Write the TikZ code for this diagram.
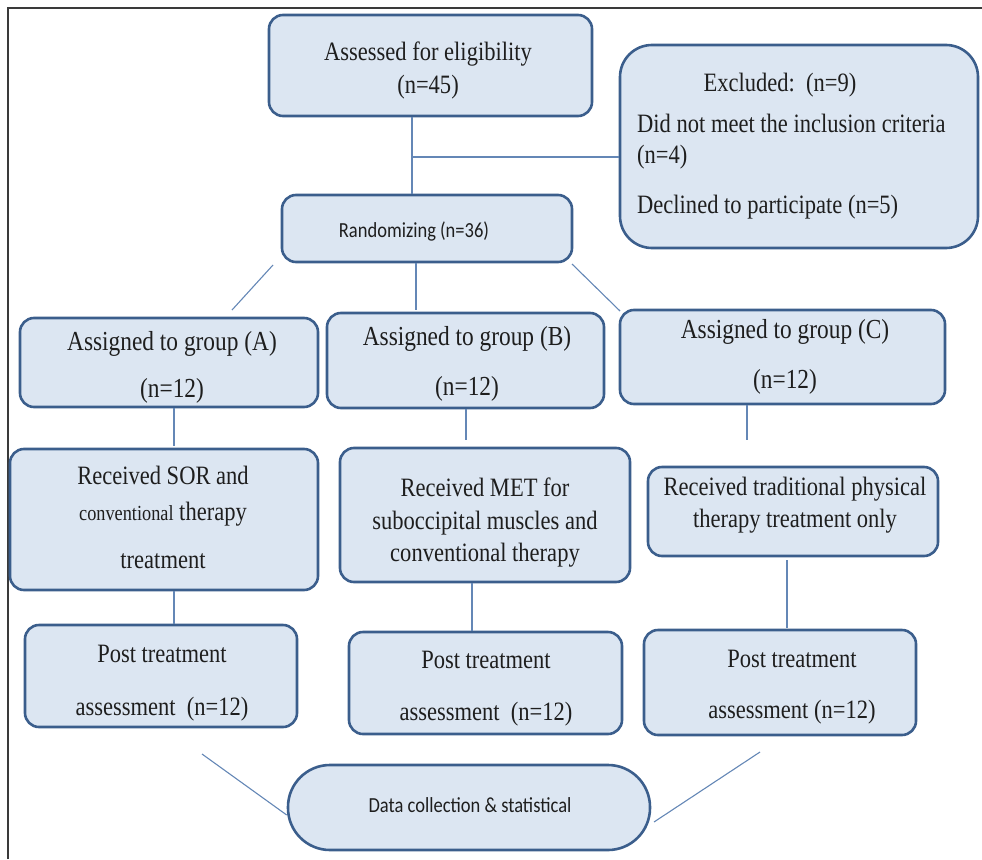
\documentclass[tikz,border=0pt]{standalone}
\usepackage{fontspec}
\setmainfont{Liberation Serif}[FakeStretch=0.85]
\newfontfamily\calib{Carlito}[FakeStretch=0.86]
\definecolor{boxfill}{HTML}{DCE6F2}
\definecolor{boxdraw}{HTML}{3B5E8C}
\definecolor{linec}{HTML}{6487B6}
\definecolor{txt}{HTML}{1E1E1E}
\definecolor{framec}{HTML}{3A3A3A}
\begin{document}
\begin{tikzpicture}[x=1pt,y=-1pt,
  box/.style={draw=boxdraw, fill=boxfill, line width=2.6pt, rounded corners=14pt, inner sep=0pt},
  conn/.style={draw=linec, line width=1.1pt},
  lbl/.style={text=txt, font=\fontsize{26.5}{30}\selectfont, inner sep=0pt, anchor=base},
  glbl/.style={text=txt, font=\fontsize{27.5}{31}\selectfont, inner sep=0pt, anchor=base},
  slbl/.style={text=txt, font=\calib\fontsize{21.5}{25}\selectfont, inner sep=0pt, anchor=base}]
\useasboundingbox (0,0) rectangle (982,859);
% frame
\draw[framec, line width=2pt] (8,859) -- (8,8) -- (982,8);

% boxes
\node[box, minimum width=323pt, minimum height=101pt] (assess) at (430.5,65.5) {};
\node[box, rounded corners=32pt, minimum width=358pt, minimum height=203pt] (excl) at (799,146.5) {};
\node[box, minimum width=290pt, minimum height=67pt] (rand) at (427,228.5) {};
\node[box, minimum width=298pt, minimum height=89pt] (gA) at (169,362.5) {};
\node[box, minimum width=277pt, minimum height=95pt] (gB) at (465.5,360.5) {};
\node[box, minimum width=325pt, minimum height=94pt] (gC) at (782.5,357) {};
\node[box, minimum width=308pt, minimum height=141pt] (rA) at (164,519.5) {};
\node[box, minimum width=290pt, minimum height=134pt] (rB) at (485,515) {};
\node[box, minimum width=290pt, minimum height=89pt] (rC) at (793,511.5) {};
\node[box, minimum width=272pt, minimum height=102pt] (pA) at (161,676) {};
\node[box, minimum width=273pt, minimum height=102pt] (pB) at (485.5,683) {};
\node[box, minimum width=272pt, minimum height=105pt] (pC) at (780,682.5) {};
\node[box, rounded corners=42pt, minimum width=362pt, minimum height=85pt] (data) at (469,807.5) {};

% texts
\node[lbl] (t1) at (428,61) {Assessed for eligibility};
\node[lbl] (t2) at (428,93) {(n=45)};
\node[lbl] (t3) at (780,92) {Excluded:\ \ (n=9)};
\node[lbl, anchor=base west] (t4) at (637,132) {Did not meet the inclusion criteria};
\node[lbl, anchor=base west] (t5) at (637,163) {(n=4)};
\node[lbl, anchor=base west] (t6) at (637,213) {Declined to participate (n=5)};
\node[slbl] (t7) at (414,237) {Randomizing (n=36)};
\node[glbl] (t8) at (172,350) {Assigned to group (A)};
\node[glbl] (t9) at (172,397) {(n=12)};
\node[glbl] (t10) at (467,345) {Assigned to group (B)};
\node[glbl] (t11) at (467,395) {(n=12)};
\node[glbl] (t12) at (785,338) {Assigned to group (C)};
\node[glbl] (t13) at (785,388) {(n=12)};
\node[lbl] (t14) at (163,484) {Received SOR and};
\node[lbl] (t15) at (163,520) {{\fontsize{21.5}{24}\selectfont conventional} therapy};
\node[lbl] (t16) at (163,568) {treatment};
\node[lbl] (t17) at (485,496) {Received MET for};
\node[lbl] (t18) at (485,529) {suboccipital muscles and};
\node[lbl] (t19) at (485,561) {conventional therapy};
\node[lbl] (t20) at (795,495) {Received traditional physical};
\node[lbl] (t21) at (795,527) {therapy treatment only};
\node[lbl] (t22) at (162,662) {Post treatment};
\node[lbl] (t23) at (162,715) {assessment\ \ (n=12)};
\node[lbl] (t24) at (486,668) {Post treatment};
\node[lbl] (t25) at (486,720) {assessment\ \ (n=12)};
\node[lbl] (t26) at (792,667) {Post treatment};
\node[lbl] (t27) at (792,718) {assessment (n=12)};
\node[slbl] (t28) at (470,812) {Data collection \& statistical};

% connector helper coordinates
\coordinate (hA) at (412,157);
\coordinate (dL1) at (273,265);
\coordinate (dL2) at (232,310);
\coordinate (dM) at (416,310);
\coordinate (dR1) at (572,264);
\coordinate (dR2) at (620,311);
\coordinate (aA) at (174,446);
\coordinate (aB) at (466,440);
\coordinate (aC) at (747,440);
\coordinate (bB) at (472,0);
\coordinate (bC) at (787,560);
\coordinate (bC2) at (787,628);
\coordinate (eL1) at (202,754);
\coordinate (eL2) at (0,815);
\coordinate (eR1) at (760,752);
\coordinate (eR2) at (654,822);

% connectors
\draw[conn] (assess.south -| hA) -- (rand.north -| hA);
\draw[conn] (hA) -- (hA -| excl.west);
\draw[conn] (dL1) -- (dL2);
\draw[conn] (rand.south -| dM) -- (dM);
\draw[conn] (dR1) -- (dR2);
\draw[conn] (gA.south -| aA) -- (aA);
\draw[conn] (gB.south -| aB) -- (aB);
\draw[conn] (gC.south -| aC) -- (aC);
\draw[conn] (rA.south -| aA) -- (pA.north -| aA);
\draw[conn] (rB.south -| bB) -- (pB.north -| bB);
\draw[conn] (bC) -- (bC2);
\draw[conn] (eL1) -- (data.west |- eL2);
\draw[conn] (eR1) -- (eR2);
\end{tikzpicture}
\end{document}
